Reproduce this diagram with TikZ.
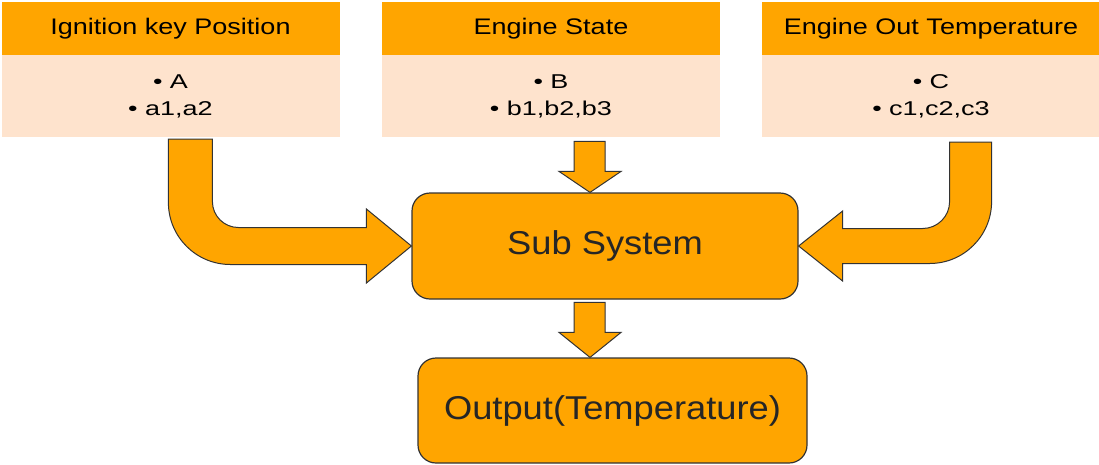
\documentclass[tikz,border=0pt]{standalone}
\usepackage{fontspec}
\setmainfont{Liberation Sans}[FakeStretch=1.1]
\newfontfamily\headfont{Liberation Sans}[FakeStretch=1.2]
\newfontfamily\itemfont{Liberation Sans}[FakeStretch=1.35]
\usetikzlibrary{positioning,calc}
\definecolor{hdr}{RGB}{255,165,0}
\definecolor{pale}{RGB}{254,227,205}
\definecolor{edge}{RGB}{51,51,51}

\begin{document}
\begin{tikzpicture}[x=1pt, y=-1pt,
  head/.style={fill=hdr, minimum width=338pt, minimum height=53pt,
    inner sep=0pt, font=\headfont\fontsize{22.5}{27}\selectfont},
  items/.style={fill=pale, minimum width=338pt, minimum height=82pt,
    inner sep=0pt, align=center, font=\itemfont\fontsize{20}{27}\selectfont},
  block/.style={draw=edge, line width=1.2pt, fill=hdr, rounded corners=18pt,
    minimum height=106pt, font=\fontsize{33}{40}\selectfont, text=black!85},
  fat/.style={draw=edge, line width=1pt, fill=hdr, line join=miter}]
\useasboundingbox (0,0) rectangle (1099,464);

\node[head] (key) at (170.5,28.5) {Ignition key Position};
\node[items, below=0pt of key] (keyval) {\textbullet\ A\\\textbullet\ a1,a2};
\node[head] (eng) at (551,28.5) {Engine State};
\node[items, below=0pt of eng] (engval) {\textbullet\ B\\\textbullet\ b1,b2,b3};
\node[head] (tmp) at (931,28.5) {Engine Out Temperature};
\node[items, below=0pt of tmp] (tmpval) {\textbullet\ C\\\textbullet\ c1,c2,c3};

\node[block, minimum width=386pt] (sub) at (605,246) {Sub System};
\node[block, minimum width=389pt, minimum height=105pt] (out)
  at (612.5,410.5) {Output(Temperature)};

\coordinate (intip) at ($(sub.north)+(-15,0)$);
\coordinate (outtip) at ($(out.north)+(-22.5,0)$);

\draw[fat] (sub.west) -- ++(-45,-37) -- ++(0,18.5) -- ++(-128,0)
  arc[start angle=90, end angle=180, radius=26] -- ++(0,-62.5) -- ++(-44,0)
  -- ++(0,63.5) arc[start angle=180, end angle=90, radius=62] -- ++(136,0)
  -- ++(0,18.5) -- cycle;
\draw[fat] (sub.east) -- ++(44,-35) -- ++(0,17.5) -- ++(80,0)
  arc[start angle=90, end angle=0, radius=27] -- ++(0,-59.5) -- ++(42,0)
  -- ++(0,59.5) arc[start angle=0, end angle=90, radius=62] -- ++(-87,0)
  -- ++(0,17.5) -- cycle;
\draw[fat] (intip) -- ++(-31,-21) -- ++(15,0) -- ++(0,-30) -- ++(31,0)
  -- ++(0,30) -- ++(16,0) -- cycle;
\draw[fat] (outtip) -- ++(-31,-25) -- ++(15,0) -- ++(0,-30) -- ++(31,0)
  -- ++(0,30) -- ++(16,0) -- cycle;
\end{tikzpicture}
\end{document}
